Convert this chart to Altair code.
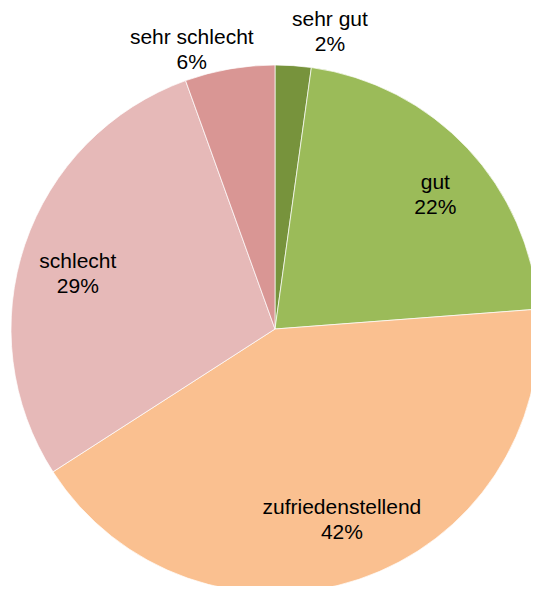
import altair as alt
import pandas as pd

# ---- data ----
categories = ["sehr gut", "gut", "zufriedenstellend", "schlecht", "sehr schlecht"]
values = [2.2, 21.6, 42.1, 28.6, 5.5]
pct_labels = ["2%", "22%", "42%", "29%", "6%"]

# ---- styles / layout (kept apart from the data) ----
colors = ["#77933C", "#9BBB59", "#FAC090", "#E6B9B8", "#D99694"]
label_radius = [303, 209, 201, 205, 292]
label_dx = [34, 8, 3, -3, -33]
label_dy = [-7, -3, -12, -1, -3]
OUTER_R = 264
CX, CY = 267, 321

df = pd.DataFrame({"cat": categories, "value": values, "pct": pct_labels,
                   "idx": list(range(len(categories)))})
df["label"] = df["cat"] + "\n" + df["pct"]

center = dict(x=alt.value(CX), y=alt.value(CY))

base = alt.Chart(df).encode(
    theta=alt.Theta("value:Q", stack=True),
    order=alt.Order("idx:Q", sort="ascending"),
)

pie = base.mark_arc(radius=OUTER_R, stroke="white", strokeWidth=0.7).encode(
    color=alt.Color("cat:N", scale=alt.Scale(domain=categories, range=colors),
                    legend=None),
    **center,
)

texts = []
for c, r, dx, dy in zip(categories, label_radius, label_dx, label_dy):
    t = base.transform_calculate(
        t=f"datum.cat === '{c}' ? datum.label : ''"
    ).mark_text(
        radius=r, dx=dx, dy=dy, font="Liberation Sans", fontSize=21,
        lineHeight=25, lineBreak="\n", align="center", baseline="middle",
        color="black",
    ).encode(text="t:N", **center)
    texts.append(t)

chart = alt.layer(pie, *texts).properties(
    width=523, height=578,
    autosize=alt.AutoSizeParams(type="none"),
    padding=0,
).configure_view(stroke=None)

chart.save("out.html", embed_options={"renderer": "svg", "actions": False})
